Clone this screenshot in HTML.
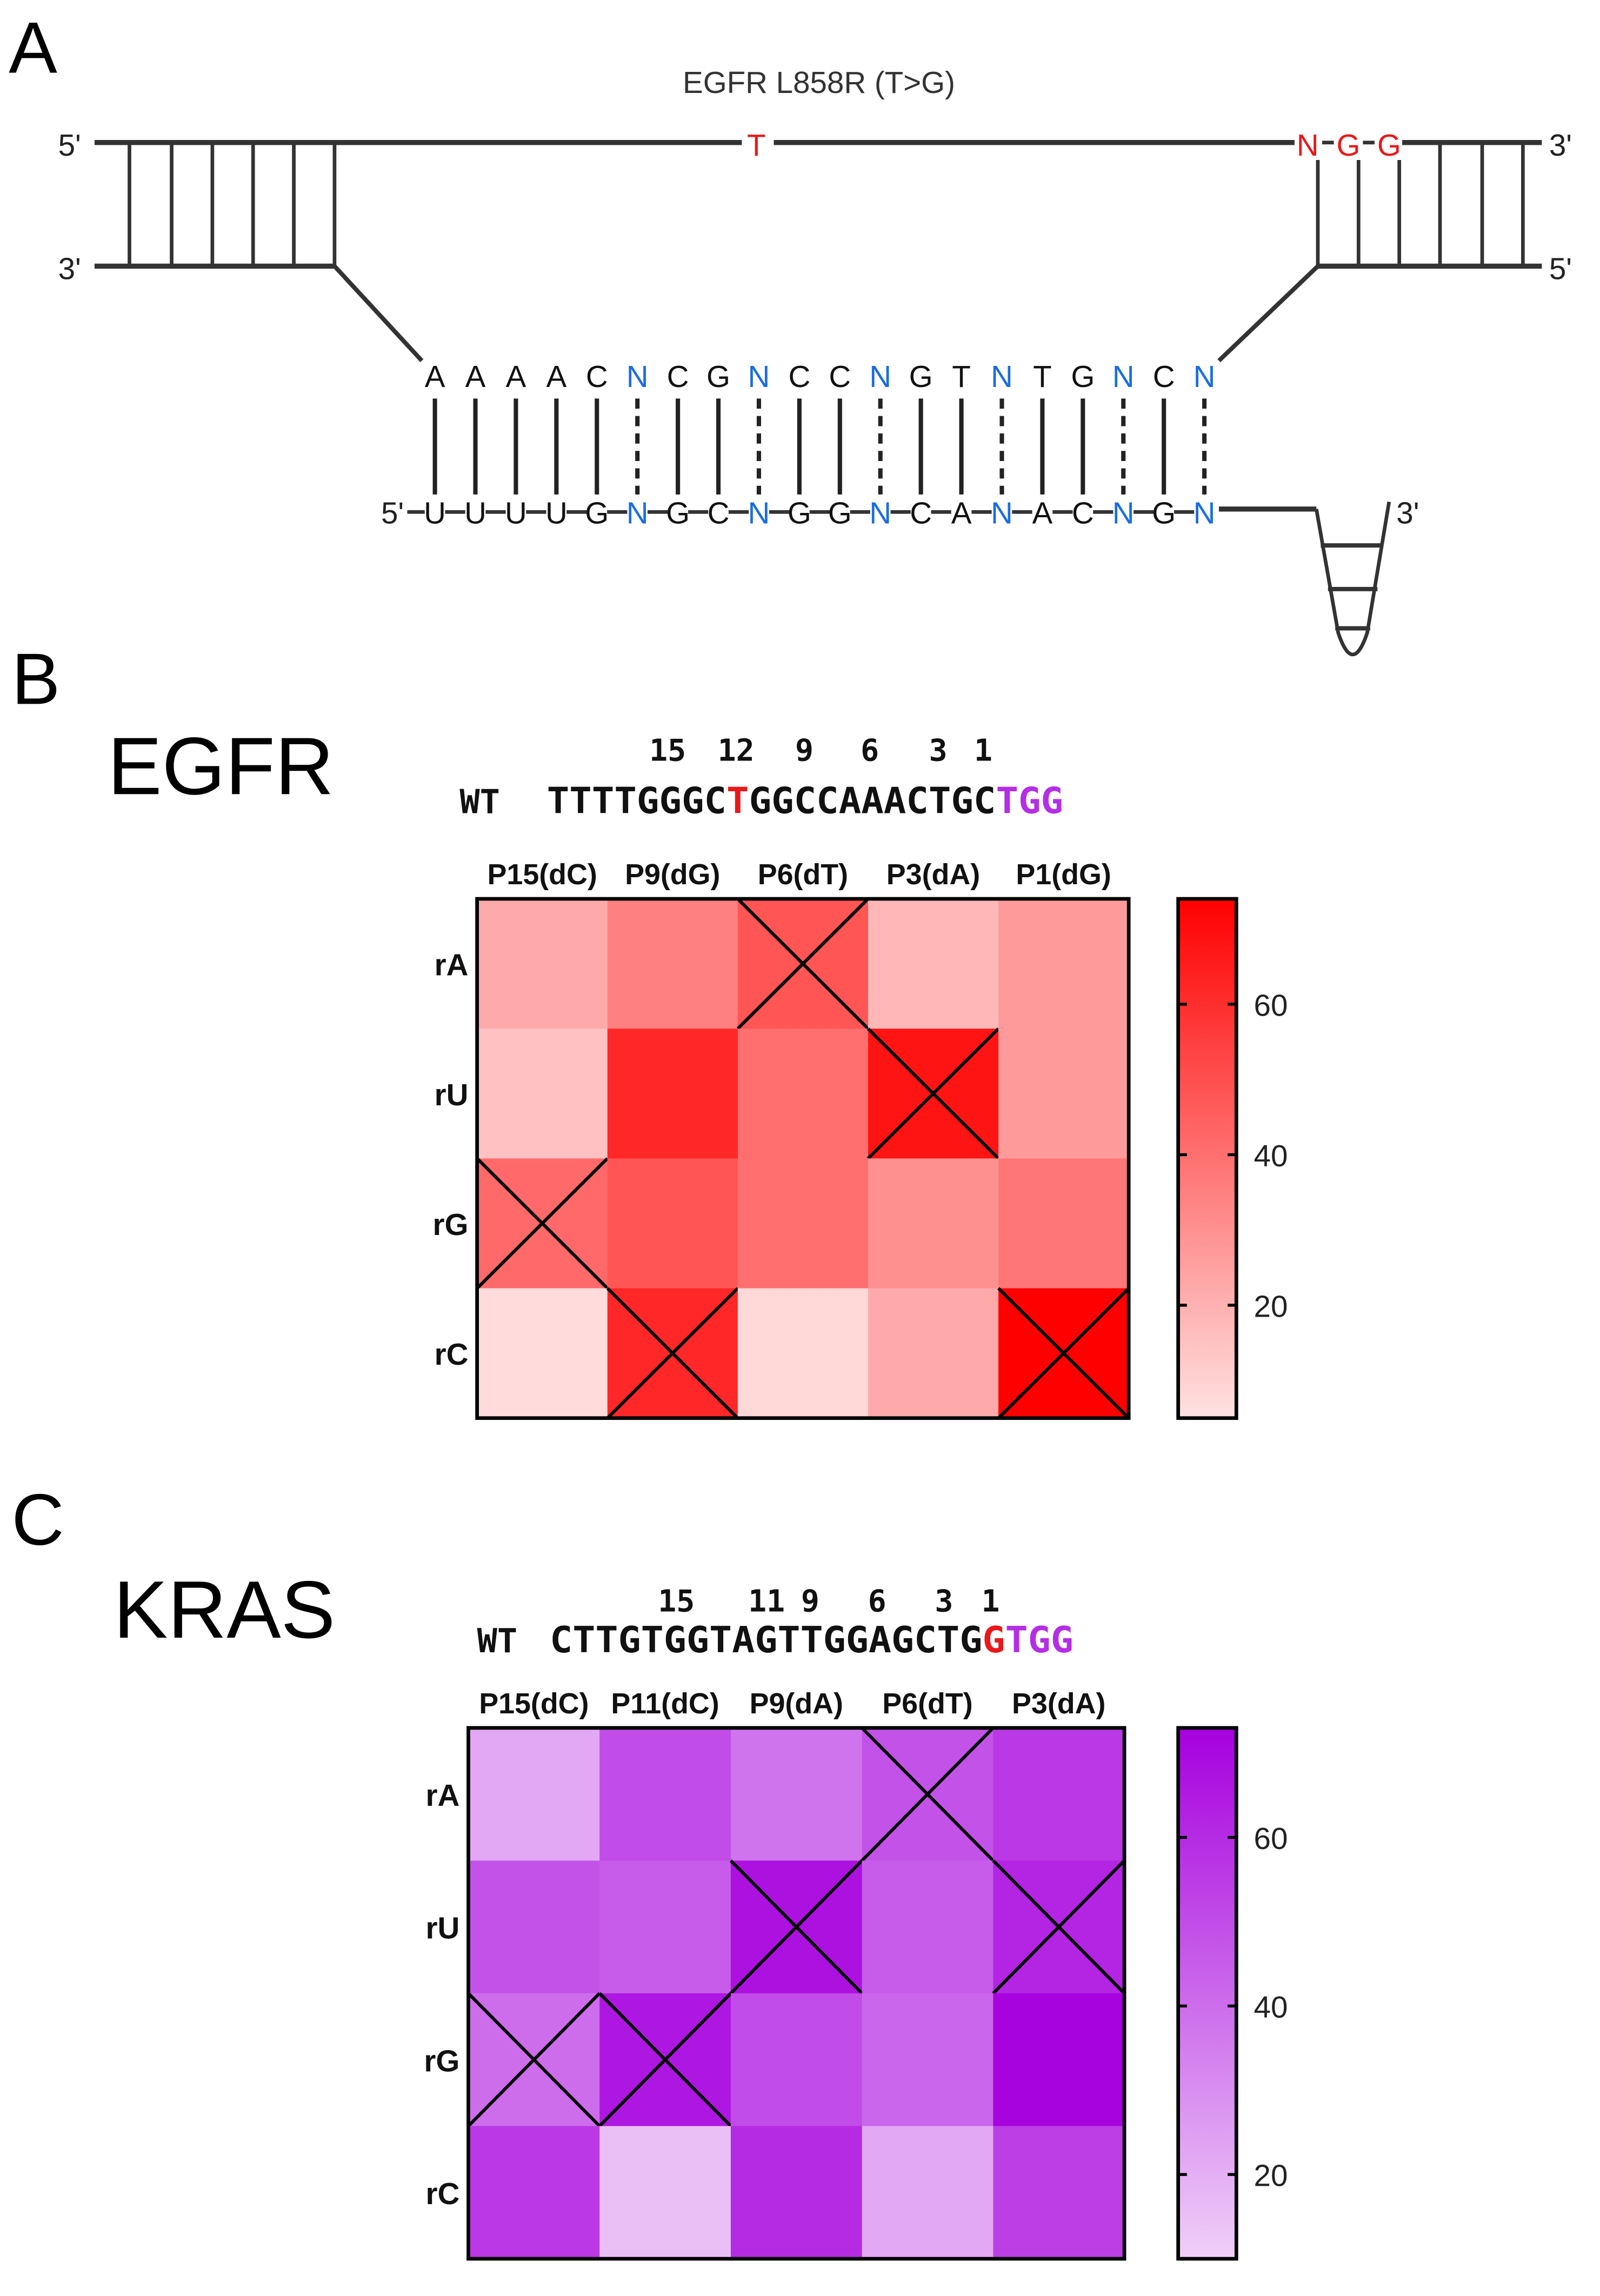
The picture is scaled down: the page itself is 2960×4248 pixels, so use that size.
<!DOCTYPE html>
<html><head><meta charset="utf-8"><style>
html,body{margin:0;padding:0;background:#fff;width:2960px;height:4248px;overflow:hidden}
svg{display:block}
text{font-family:"Liberation Sans",Arial,sans-serif}
.mono{font-family:"DejaVu Sans Mono","Liberation Mono",monospace;font-weight:bold}
</style></head><body>
<svg id="fig" width="2960" height="4248" viewBox="0 0 1100 1578.6" preserveAspectRatio="none" xmlns="http://www.w3.org/2000/svg">
<defs>
<linearGradient id="gRed" x1="0" y1="1" x2="0" y2="0"><stop offset="0" stop-color="rgb(255,226,226)"/><stop offset="1" stop-color="rgb(255,0,0)"/></linearGradient>
<linearGradient id="gPur" x1="0" y1="1" x2="0" y2="0"><stop offset="0" stop-color="rgb(240,208,248)"/><stop offset="1" stop-color="rgb(166,0,222)"/></linearGradient>
</defs>
<g>
<text x="6" y="50" font-size="50">A</text>
<text x="563" y="64" font-size="21" text-anchor="middle" fill="#333">EGFR L858R (T&gt;G)</text>
<g stroke="#333" stroke-width="3.5" fill="none">
<line x1="65" y1="98" x2="510" y2="98"/><line x1="532" y1="98" x2="890" y2="98"/><line x1="964" y1="98" x2="1060" y2="98"/>
<line x1="65" y1="183" x2="230" y2="183"/><line x1="906" y1="183" x2="1060" y2="183"/>
<line x1="230" y1="183" x2="290" y2="248" stroke-width="3"/><line x1="906" y1="183" x2="838" y2="248" stroke-width="3"/>
<line x1="838" y1="350" x2="905" y2="350"/>
</g>
<g stroke="#333" stroke-width="2.5" id="ladders"></g>
<text x="520" y="107" font-size="21" fill="#e8191a" text-anchor="middle">T</text>
<text x="899" y="107" font-size="21" fill="#e8191a" text-anchor="middle">N</text>
<text x="927" y="107" font-size="21" fill="#e8191a" text-anchor="middle">G</text>
<text x="955" y="107" font-size="21" fill="#e8191a" text-anchor="middle">G</text>
<line x1="909" y1="98" x2="917" y2="98" stroke="#333" stroke-width="2.5"/><line x1="937" y1="98" x2="945" y2="98" stroke="#333" stroke-width="2.5"/>
<text x="40" y="107" font-size="21" fill="#222">5'</text><text x="1065" y="107" font-size="21" fill="#222">3'</text>
<text x="40" y="192" font-size="21" fill="#222">3'</text><text x="1065" y="192" font-size="21" fill="#222">5'</text>
<text x="262" y="360" font-size="21" fill="#222">5'</text><text x="960" y="360" font-size="21" fill="#222">3'</text>
<g id="pairs"></g>
<path d="M905 350 L920 435 Q930 465 940 435 L955 345" stroke="#333" stroke-width="2.5" fill="none"/>
<g stroke="#333" stroke-width="3"><line x1="908" y1="375" x2="951" y2="375"/><line x1="913" y1="405" x2="947" y2="405"/><line x1="918" y1="432" x2="942" y2="432"/></g>
</g>
<text x="8" y="484" font-size="50">B</text>
<text x="74" y="546" font-size="56">EGFR</text>
<g id="egfr"></g>
<text x="8" y="1062" font-size="50">C</text>
<text x="78" y="1126" font-size="56">KRAS</text>
<g id="kras"></g>
</svg>
<script>
const NS="http://www.w3.org/2000/svg";
const rows=["rA","rU","rG","rC"];
const egfrCols=["P15(dC)","P9(dG)","P6(dT)","P3(dA)","P1(dG)"];
const egfrValues=[[22,35,48,18,27],[15,62,40,68,27],[42,48,40,30,38],[7,62,8,22,74]];
const egfrCrossed=[[0,0,1,0,0],[0,0,0,1,0],[1,0,0,0,0],[0,1,0,0,1]];
const krasCols=["P15(dC)","P11(dC)","P9(dA)","P6(dT)","P3(dA)"];
const krasValues=[[22,50,38,48,56],[48,45,68,45,62],[40,66,50,42,72],[56,15,60,22,54]];
const krasCrossed=[[0,0,0,1,0],[0,0,1,0,1],[1,1,0,0,0],[0,0,0,0,0]];
const cbTicks=[20,40,60];
const topSeq="AAAACNCGNCCNGTNTGNCN".split("");
const botSeq="UUUUGNGCNGGNCANACNGN".split("");

function mk(tag,attrs,parent,txt){const e=document.createElementNS(NS,tag);for(const k in attrs)e.setAttribute(k,attrs[k]);if(txt!==undefined)e.textContent=txt;parent.appendChild(e);return e;}

const lad=document.getElementById('ladders');
[89,118,146,174,202,230].forEach(x=>{const l=mk('line',{x1:x,y1:98,x2:x,y2:183},lad);});
[906,934,962,990,1019,1047].forEach((x,i)=>{const l=mk('line',{x1:x,y1:i<3?110:98,x2:x,y2:183},lad);});

const pg=document.getElementById('pairs');
const x0=299,step=(828-299)/19;
topSeq.forEach((c,i)=>{
  const x=x0+i*step, isN=c==="N";
  const t=mk('text',{x:x,y:266,'font-size':21,'text-anchor':'middle',fill:isN?'#1a6de0':'#111'},pg,c);
  
  const b=mk('text',{x:x,y:360,'font-size':21,'text-anchor':'middle',fill:isN?'#1a6de0':'#111'},pg,botSeq[i]);
  
  const l=mk('line',{x1:x,y1:274,x2:x,y2:340,stroke:'#222','stroke-width':3},pg);
  if(isN)l.setAttribute('stroke-dasharray','7,5');
  
  if(i<19){const d=mk('line',{x1:x+7,y1:352,x2:x+step-7,y2:352,stroke:'#333','stroke-width':2.5},pg);}
});
const bb=mk('line',{x1:280,y1:352,x2:292,y2:352,stroke:'#333','stroke-width':2.5},pg);


function heat(g,cfg){
  const {cols,values,crossed,x,y,w,h,cbx,cbw,vmin,vmax,c0,c1,grad,seq,seqX,seqY,seqLen,colors,nums,numY,wtX,hdrY,rowX}=cfg;
  const cw=w/cols.length, ch=h/rows.length;
  const col=v=>{const t=Math.max(0,Math.min(1,(v-vmin)/(vmax-vmin)));return `rgb(${c0.map((a,i)=>Math.round(a+(c1[i]-a)*t)).join(',')})`;};
  const yScale=v=>y+h-(v-vmin)/(vmax-vmin)*h;
  nums.forEach(n=>{const t=mk('text',{x:n[1],y:numY,'font-size':21,'text-anchor':'middle',class:'mono',fill:'#111'},g,n[0]);});
  const wt=mk('text',{x:wtX,y:seqY,'font-size':23,class:'mono',fill:'#111'},g,'WT');
  const st=mk('text',{x:seqX,y:seqY,'font-size':25,class:'mono',textLength:seqLen,lengthAdjust:'spacingAndGlyphs'},g);
  
  seq.split("").forEach((c,i)=>{mk('tspan',{fill:colors[i]||'#111'},st,c);});
  cols.forEach((c,j)=>{const t=mk('text',{x:x+cw*(j+0.5),y:hdrY,'font-size':20,'font-weight':'bold','text-anchor':'middle',fill:'#111'},g,c);});
  rows.forEach((r,i)=>{const t=mk('text',{x:rowX,y:y+ch*(i+0.5)+8,'font-size':21,'font-weight':'bold','text-anchor':'end',fill:'#111'},g,r);});
  values.forEach((row,i)=>row.forEach((v,j)=>{
    const r=mk('rect',{x:x+j*cw,y:y+i*ch,width:cw+0.5,height:ch+0.5,fill:col(v)},g);
    
    if(crossed[i][j]){
      const p=mk('path',{d:`M${x+j*cw} ${y+i*ch}L${x+(j+1)*cw} ${y+(i+1)*ch}M${x+(j+1)*cw} ${y+i*ch}L${x+j*cw} ${y+(i+1)*ch}`,stroke:'#000','stroke-width':2.2,fill:'none'},g);
      
    }
  }));
  const fr=mk('rect',{x:x,y:y,width:w,height:h,fill:'none',stroke:'#000','stroke-width':2.5},g);
  
  const cb=mk('rect',{x:cbx,y:y,width:cbw,height:h,fill:`url(#${grad})`,stroke:'#000','stroke-width':2.5},g);
  
  cbTicks.forEach(v=>{const ty=yScale(v);
    const a=mk('path',{d:`M${cbx} ${ty}h6M${cbx+cbw} ${ty}h-6`,stroke:'#000','stroke-width':2},g);
    const t=mk('text',{x:cbx+cbw+12,y:ty+8,'font-size':21,fill:'#222'},g,v);});
}
const eColors={};eColors[8]='#e8191a';eColors[20]='#b42ee6';eColors[21]='#b42ee6';eColors[22]='#b42ee6';
heat(document.getElementById('egfr'),{cols:egfrCols,values:egfrValues,crossed:egfrCrossed,x:328,y:618,w:448,h:357,cbx:810,cbw:40,vmin:5,vmax:74,c0:[255,226,226],c1:[255,0,0],grad:'gRed',
  seq:"TTTTGGGCTGGCCAAACTGCTGG",seqX:376,seqY:559,seqLen:355,colors:eColors,nums:[["15",459],["12",506],["9",553],["6",598],["3",645],["1",676]],numY:523,wtX:316,hdrY:608,rowX:322});
const kColors={};kColors[19]='#e8191a';kColors[20]='#b42ee6';kColors[21]='#b42ee6';kColors[22]='#b42ee6';
heat(document.getElementById('kras'),{cols:krasCols,values:krasValues,crossed:krasCrossed,x:322,y:1188,w:451,h:365,cbx:810,cbw:40,vmin:10,vmax:73,c0:[240,208,248],c1:[166,0,222],grad:'gPur',
  seq:"CTTGTGGTAGTTGGAGCTGGTGG",seqX:378,seqY:1136,seqLen:360,colors:kColors,nums:[["15",465],["11",527],["9",557],["6",603],["3",649],["1",681]],numY:1108,wtX:328,hdrY:1178,rowX:316});
</script>
</body></html>
